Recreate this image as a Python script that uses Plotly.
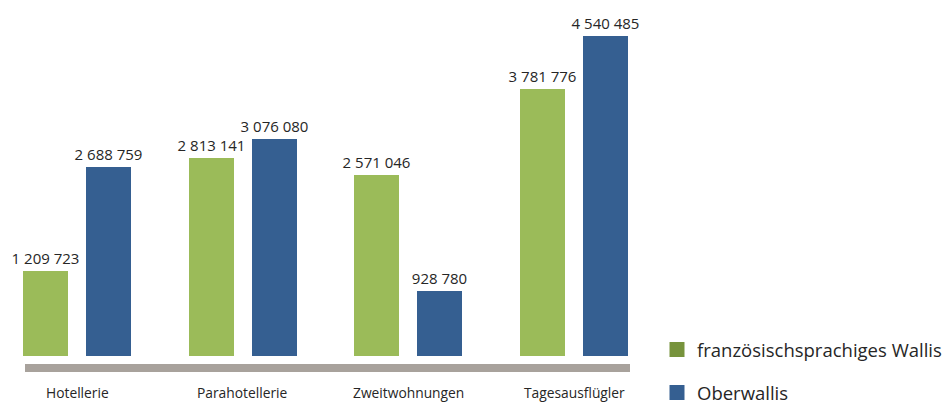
import plotly.graph_objects as go

categories = ["Hotellerie", "Parahotellerie", "Zweitwohnungen", "Tagesausflügler"]
series_names = ["französischsprachiges Wallis", "Oberwallis"]
fr_values = [1209723, 2813141, 2571046, 3781776]
ober_values = [2688759, 3076080, 928780, 4540485]

bar_colors = ["#9BBB59", "#355F91"]
legend_colors = ["#77933C", "#355F91"]
FONT = "Open Sans"
TXT = "#262626"

x = list(range(len(categories)))
W = 942
H = 403
spacing = 165.7  # px per category
x0_px = 77
plot_w = 660
xr = [-x0_px / spacing, (plot_w - x0_px) / spacing]

fig = go.Figure()
bw = 45 / spacing
offsets = [-54 / spacing, 9 / spacing]
for name, vals, col, off in zip(series_names, [fr_values, ober_values], bar_colors, offsets):
    fig.add_trace(go.Bar(
        x=x, y=vals, name=name, marker=dict(color=col, line=dict(width=0)),
        width=bw, offset=off, showlegend=False,
        text=vals, texttemplate="%{y:,}", textposition="outside",
        constraintext="none",
        textfont=dict(family=FONT, size=15, color=TXT), cliponaxis=False,
    ))

for i, (name, col) in enumerate(zip(series_names, legend_colors)):
    fig.add_trace(go.Scatter(
        x=[None], y=[None], mode="markers", name=name,
        marker=dict(symbol="square", size=15, color=col),
        legend="legend" if i == 0 else "legend2",
    ))

plot_h = 356
ymax = 4540485 * plot_h / 320

# gray baseline band
fig.add_shape(type="rect", xref="x", yref="paper",
              x0=(25 - x0_px) / spacing, x1=(630 - x0_px) / spacing,
              y0=-(372 - plot_h) / plot_h, y1=-(364 - plot_h) / plot_h,
              line=dict(width=0), fillcolor="#A8A29C", layer="above")

for i, c in enumerate(categories):
    fig.add_annotation(x=i, y=-(392 - plot_h) / plot_h, xref="x", yref="paper",
                       text=c, showarrow=False, yanchor="middle",
                       font=dict(family=FONT, size=13.8, color=TXT))

fig.update_layout(
    width=W, height=H,
    margin=dict(l=0, r=0, t=0, b=H - plot_h, autoexpand=False),
    paper_bgcolor="white", plot_bgcolor="white",
    separators=", ",
    bargap=0, barmode="group",
    xaxis=dict(range=xr, domain=[0, plot_w / W], showgrid=False, zeroline=False,
               showticklabels=False, showline=False, fixedrange=True),
    yaxis=dict(range=[0, ymax], showgrid=False, zeroline=False,
               showticklabels=False, showline=False, fixedrange=True),
    legend=dict(x=657 / W, y=1 - 350 / H, xref="container", yref="container",
                xanchor="left", yanchor="middle", bgcolor="rgba(0,0,0,0)",
                font=dict(family=FONT, size=18.5, color=TXT)),
    legend2=dict(x=657 / W, y=1 - 393 / H, xref="container", yref="container",
                 xanchor="left", yanchor="middle", bgcolor="rgba(0,0,0,0)",
                 font=dict(family=FONT, size=18.5, color=TXT)),
)

fig.write_html("out.html", config={"displayModeBar": False},
               post_script="document.body.style.margin='0';")
